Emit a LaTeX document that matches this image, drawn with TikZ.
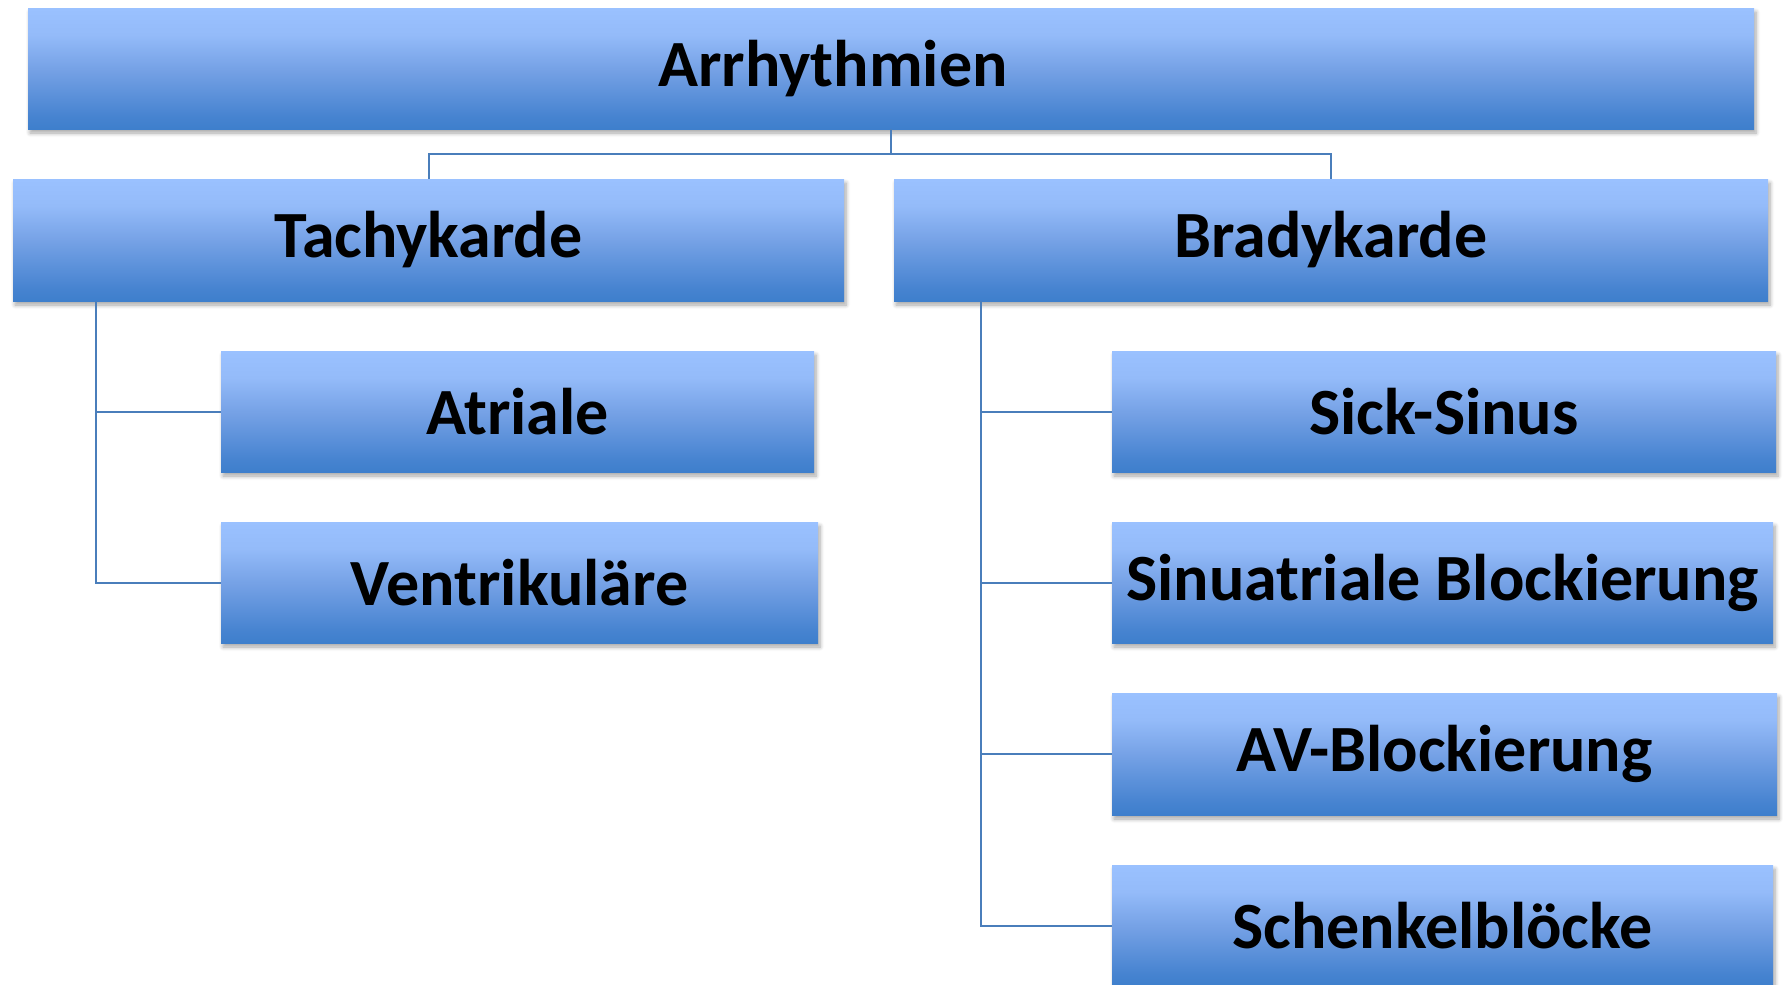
\documentclass[tikz,border=0pt]{standalone}
\usepackage{fontspec}
\setmainfont{Carlito}
\usetikzlibrary{shadows.blur}
\definecolor{gtop}{HTML}{9AC1FF}
\definecolor{ghigh}{HTML}{94BBF9}
\definecolor{gmid}{HTML}{76A2E6}
\definecolor{glow}{HTML}{4683D0}
\definecolor{gbot}{HTML}{3E7FCC}
\definecolor{linec}{HTML}{4A7EBB}
\pgfdeclareverticalshading{boxshade}{100bp}{color(0bp)=(gbot); color(25bp)=(gbot); color(30bp)=(glow); color(50bp)=(gmid); color(64bp)=(ghigh); color(75bp)=(gtop); color(100bp)=(gtop)}
\tikzset{
  cbox/.style={shading=boxshade, draw=none, inner sep=0pt, outer sep=0pt,
    font=\fontsize{66}{79}\selectfont\bfseries, text=black,
    blur shadow={shadow xshift=2pt, shadow yshift=-4pt, shadow blur radius=4pt, shadow blur steps=6, shadow opacity=35}},
  conn/.style={draw=linec, line width=2pt}
}
\begin{document}
\begin{tikzpicture}[x=1pt,y=-1pt]
\useasboundingbox (0,0) rectangle (1783,985);
\node[cbox, minimum width=1726pt, minimum height=121pt] (top) at (891,68.5) {Arrhythmien\hspace*{116pt}};
\node[cbox, minimum width=831pt, minimum height=122pt] (tachy) at (428.5,240) {Tachykarde};
\node[cbox, minimum width=874pt, minimum height=122pt] (brady) at (1331,240) {Bradykarde};
\node[cbox, minimum width=593pt, minimum height=121pt] (atriale) at (517.5,411.5) {Atriale};
\node[cbox, minimum width=597pt, minimum height=121pt] (ventr) at (519.5,582.5) {Ventrikuläre};
\node[cbox, minimum width=664pt, minimum height=121pt] (sick) at (1444,411.5) {Sick-Sinus};
\node[cbox, minimum width=661pt, minimum height=121pt] (sinu) at (1442.5,582.5) {Sinuatriale Blockierung};
\node[cbox, minimum width=665pt, minimum height=122pt] (av) at (1444.5,754) {AV-Blockierung};
\node[cbox, minimum width=661pt, minimum height=121pt] (schenkel) at (1442.5,925.5) {Schenkelblöcke};
\coordinate (bus) at (891,154);
\draw[conn] (top.south) -- (bus);
\draw[conn] (bus) -| (tachy.north);
\draw[conn] (bus) -| (brady.north);
\draw[conn] ([xshift=83pt]tachy.south west) |- (atriale.west);
\draw[conn] ([xshift=83pt]tachy.south west) |- (ventr.west);
\draw[conn] ([xshift=87pt]brady.south west) |- (sick.west);
\draw[conn] ([xshift=87pt]brady.south west) |- (sinu.west);
\draw[conn] ([xshift=87pt]brady.south west) |- (av.west);
\draw[conn] ([xshift=87pt]brady.south west) |- (schenkel.west);
\end{tikzpicture}
\end{document}
